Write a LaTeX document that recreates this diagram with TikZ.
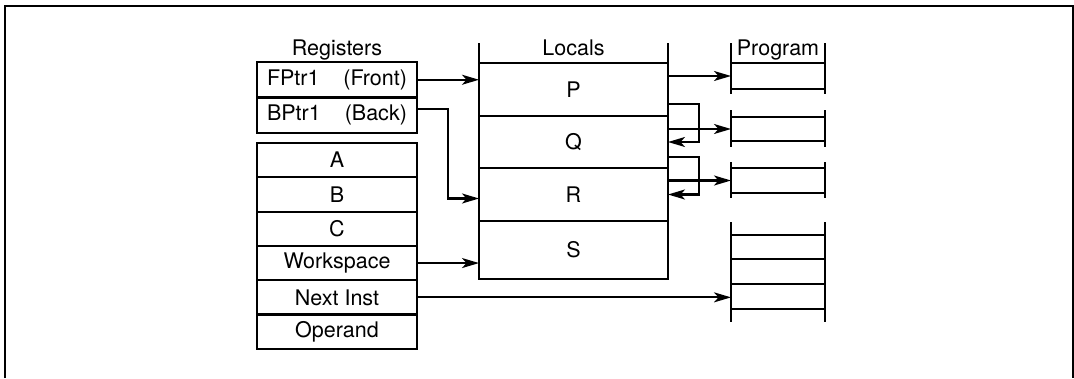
\documentclass[tikz,border=0pt]{standalone}
\usepackage{fontspec}
\setmainfont{TeX Gyre Heros}
\usetikzlibrary{positioning, arrows.meta}

\begin{document}
\begin{tikzpicture}[
  x=1pt, y=-1pt,
  font=\fontsize{21.5}{24}\selectfont,
  line width=2.1pt,
  cell/.style={draw, minimum width=160pt, minimum height=34.3pt, inner sep=0pt, outer sep=0pt},
  ptr/.style={cell, minimum height=35.5pt, text width=140pt},
  local/.style={draw, minimum width=189pt, inner sep=0pt, outer sep=0pt},
  prog/.style={draw, minimum width=94pt, inner sep=0pt, outer sep=0pt},
  title/.style={anchor=base},
  flow/.style={-{Stealth[length=17pt, width=10pt, inset=4.5pt]}}
]
\useasboundingbox (0,0) rectangle (1074,378);
\draw (5,378) -- (5,6) -- (1073,6) -- (1073,378);
% --- registers ---
\node[ptr, anchor=north west] (fp) at (257,62) {FPtr1\hfill(Front)};
\node[ptr, below=0pt of fp] (bp) {BPtr1\hfill(Back)};
\node[title] at (fp.north |- 0,55) {Registers};
\node[cell, anchor=north west] (ra) at (257,143) {A};
\node[cell, below=0pt of ra] (rb) {B};
\node[cell, below=0pt of rb] (rc) {C};
\node[cell, below=0pt of rc] (ws) {Workspace};
\node[cell, below=0pt of ws] (ni) {Next Inst};
\node[cell, below=0pt of ni] (op) {Operand};
% --- locals ---
\node[local, minimum height=53pt, anchor=north west] (p) at (479,63) {P};
\node[local, minimum height=52pt, below=0pt of p] (q) {Q};
\node[local, minimum height=53pt, below=0pt of q] (r) {R};
\node[local, minimum height=58pt, below=0pt of r] (s) {S};
\draw (p.north west) -- ++(0,-20);
\draw (p.north east) -- ++(0,-20);
\node[title] at (p.north |- 0,55) {Locals};
% --- program ---
\node[prog, minimum height=26pt, anchor=north west] (g1) at (731,63) {};
\node[prog, minimum height=24pt, anchor=north west] (g2) at (731,117) {};
\node[prog, minimum height=25pt, anchor=north west] (g3) at (731,168) {};
\node[prog, minimum height=24pt, anchor=north west] (g4a) at (731,235) {};
\node[prog, minimum height=25pt, below=0pt of g4a] (g4b) {};
\node[prog, minimum height=25pt, below=0pt of g4b] (g4c) {};
\foreach \t/\b/\u/\d in {g1/g1/20/5, g2/g2/7/6, g3/g3/6/5, g4a/g4c/13/13} {
  \draw ([yshift=\u pt]\t.north west) -- ([yshift=-\d pt]\b.south west);
  \draw ([yshift=\u pt]\t.north east) -- ([yshift=-\d pt]\b.south east);
}
\node[title] at (g1.north |- 0,55) {Program};
% --- pointers ---
\draw[flow] (fp.east) -- (fp.east -| p.west);
\draw[flow] ([yshift=6pt]bp.east) -- ++(31,0) |- ([yshift=-4pt]r.west);
\draw[flow] (ws.east) -- (ws.east -| s.west);
\draw[flow] (ni.east) -- (ni.east -| g4c.west);
\draw[flow] (g1.west -| p.east) -- (g1.west);
\draw[flow] ([yshift=-14.5pt]p.east) -- ++(31,0) |- (q.east);
\draw[flow] (g2.west -| q.east) -- (g2.west);
\draw[flow] ([yshift=-15pt]q.east) -- ++(31,0) |- (r.east);
\draw[flow] (g3.west -| r.east) -- (g3.west);
\end{tikzpicture}
\end{document}
